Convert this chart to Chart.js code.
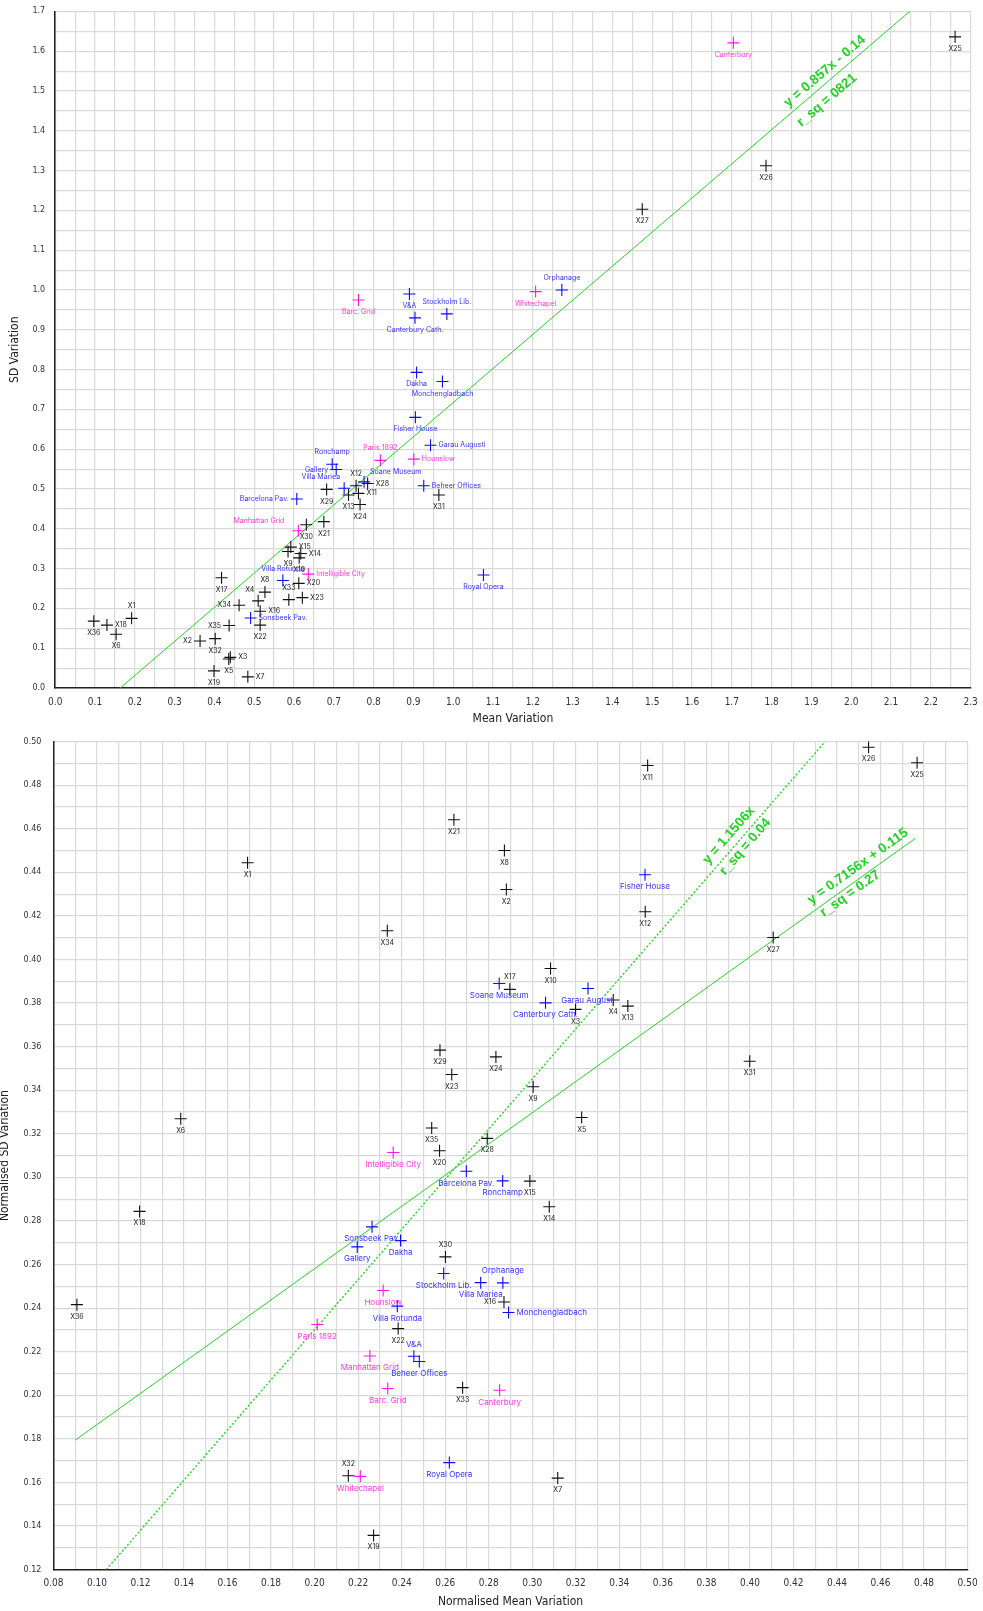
<!DOCTYPE html>
<html>
<head>
<meta charset="utf-8">
<title>Variation scatter</title>
<script src="https://cdn.jsdelivr.net/npm/chart.js@4.4.1/dist/chart.umd.min.js"></script>
<style>
  html, body { margin: 0; padding: 0; background: #fff; }
  .panel { position: relative; width: 983px; }
  #topPanel { height: 730px; }
  #bottomPanel { height: 881px; }
</style>
</head>
<body>
<div class="panel" id="topPanel"><canvas id="meanChart"></canvas></div>
<div class="panel" id="bottomPanel"><canvas id="normChart"></canvas></div>
<script>
// --- buildings: anonymous X series first, then the named set ---
const names = [
  'X1','X2','X3','X4','X5','X6','X7','X8','X9','X10','X11','X12',
  'X13','X14','X15','X16','X17','X18','X19','X20','X21','X22','X23','X24',
  'X25','X26','X27','X28','X29','X30','X31','X32','X33','X34','X35','X36',
  'Canterbury','Orphanage','Whitechapel','Barc. Grid','V&A','Stockholm Lib.',
  'Canterbury Cath.','Dakha','Monchengladbach','Fisher House','Garau Augusti','Hounslow',
  'Paris 1892','Ronchamp','Gallery','Villa Mariea','Soane Museum','Barcelona Pav.',
  'Manhattan Grid','Beheer Offices','Intelligible City','Villa Rotunda','Sonsbeek Pav.','Royal Opera'
];
// x = unnamed, b = blue group, m = magenta group
const groups = [
  'x','x','x','x','x','x','x','x','x','x','x','x',
  'x','x','x','x','x','x','x','x','x','x','x','x',
  'x','x','x','x','x','x','x','x','x','x','x','x',
  'm','b','m','m','b','b',
  'b','b','b','b','b','m',
  'm','b','b','b','b','b',
  'm','b','m','b','b','b'
];

// raw variation
const meanVar = [
  0.192, 0.364, 0.440, 0.510, 0.436, 0.153, 0.484, 0.527, 0.585, 0.613, 0.762, 0.756,
  0.737, 0.617, 0.592, 0.515, 0.418, 0.130, 0.399, 0.612, 0.675, 0.515, 0.621, 0.766,
  2.261, 1.786, 1.475, 0.785, 0.682, 0.631, 0.964, 0.402, 0.587, 0.462, 0.437, 0.097,
  1.704, 1.273, 1.207, 0.762, 0.890, 0.984,
  0.904, 0.908, 0.973, 0.905, 0.943, 0.901,
  0.817, 0.696, 0.706, 0.726, 0.776, 0.607,
  0.611, 0.926, 0.636, 0.572, 0.491, 1.076
];
const sdVar = [
  0.175, 0.118, 0.077, 0.219, 0.073, 0.135, 0.028, 0.241, 0.343, 0.327, 0.489, 0.508,
  0.485, 0.338, 0.354, 0.193, 0.277, 0.158, 0.043, 0.263, 0.418, 0.158, 0.227, 0.461,
  1.636, 1.312, 1.203, 0.514, 0.499, 0.410, 0.485, 0.124, 0.222, 0.208, 0.157, 0.168,
  1.621, 1.000, 0.996, 0.975, 0.990, 0.940,
  0.930, 0.793, 0.770, 0.680, 0.610, 0.575,
  0.572, 0.562, 0.549, 0.502, 0.518, 0.475,
  0.395, 0.508, 0.286, 0.270, 0.176, 0.284
];

// normalised variation
const normMeanVar = [
  0.1692, 0.2881, 0.3199, 0.3372, 0.3227, 0.1385, 0.3117, 0.2872, 0.3004, 0.3084, 0.3530, 0.3519,
  0.3439, 0.3078, 0.2989, 0.2870, 0.2897, 0.1196, 0.2271, 0.2574, 0.2640, 0.2384, 0.2630, 0.2833,
  0.4768, 0.4545, 0.4107, 0.2793, 0.2576, 0.2601, 0.3999, 0.2155, 0.2680, 0.2334, 0.2538, 0.0908,
  0.2850, 0.2865, 0.2210, 0.2336, 0.2456, 0.2593,
  0.3061, 0.2395, 0.2891, 0.3518, 0.3256, 0.2315,
  0.2012, 0.2864, 0.2196, 0.2763, 0.2848, 0.2697,
  0.2254, 0.2481, 0.2361, 0.2380, 0.2264, 0.2619
];
const normSdVar = [
  0.4444, 0.4321, 0.3771, 0.3814, 0.3275, 0.3269, 0.1620, 0.4500, 0.3416, 0.3959, 0.4890, 0.4219,
  0.3786, 0.2865, 0.2983, 0.2428, 0.3863, 0.2844, 0.1357, 0.3122, 0.4641, 0.2306, 0.3472, 0.3553,
  0.4903, 0.4974, 0.4101, 0.3179, 0.3584, 0.2635, 0.3533, 0.1631, 0.2035, 0.4132, 0.3227, 0.2416,
  0.2023, 0.2516, 0.1628, 0.2031, 0.2179, 0.2559,
  0.3801, 0.2710, 0.2380, 0.4389, 0.3867, 0.2481,
  0.2325, 0.2984, 0.2681, 0.2517, 0.3890, 0.3028,
  0.2180, 0.2155, 0.3114, 0.2409, 0.2773, 0.1691
];

// fitted lines: [slope, intercept]
const meanFit = [0.857, -0.14];
const normFit = [0.7156, 0.115];
const normFitOrigin = [1.1506, 0];

// where each point's name sits relative to its cross
const meanLabelPos = [
  'a','l','r','al','b','b','r','a','b','b','r','a',
  'b','r','r','r','b','r','b','r','b','b','r','b',
  'b','b','b','r','b','b','b','b','a','l','l','b',
  'b','a','b','b','b','a',
  'b','b','b','b','r','r',
  'a','a','l','al','ar','l',
  'ml','r','r','a','r','b'
];
const normLabelPos = [
  'b','b','b','b','b','b','b','b','b','b','b','b',
  'b','b','b','l','a','b','b','b','b','b','b','b',
  'b','b','b','b','b','a','b','a','b','b','b','b',
  'b','a','b','b','a','b',
  'b','b','r','b','b','b',
  'b','b','b','b','b','b',
  'b','b','b','b','b','b'
];

const LABEL_OFFSETS = {
  b: [0, 12, 'center'], a: [0, -12, 'center'],
  r: [8, 0, 'left'], l: [-8, 0, 'right'],
  al: [-4, -11, 'right'], ar: [6, -10, 'left'], ml: [-14, -10, 'right']
};
const GROUP_STYLE = {
  x: { point: '#111111', text: '#222222' },
  b: { point: '#0a0aff', text: '#3434ff' },
  m: { point: '#ff14f0', text: '#ff36dc' }
};
const GREEN = '#22d622';
const GRID = '#d9d9d9';
const NARROW = "'Liberation Sans Narrow', 'DejaVu Sans Condensed', 'Arial Narrow', sans-serif";
const LABEL_FONT = "Inter, 'DejaVu Sans', sans-serif";

function pointSets(xs, ys, pos, named, plain) {
  return ['x', 'b', 'm'].map(g => {
    const idx = names.map((_, i) => i).filter(i => groups[i] === g);
    return {
      type: 'scatter',
      data: idx.map(i => ({ x: xs[i], y: ys[i] })),
      labelText: idx.map(i => names[i]),
      labelPos: idx.map(i => pos[i]),
      labelColor: GROUP_STYLE[g].text,
      labelSize: g === 'x' ? plain : named,
      pointStyle: 'cross',
      pointRadius: 6,
      pointHoverRadius: 6,
      borderWidth: 1.1,
      borderColor: GROUP_STYLE[g].point,
      backgroundColor: GROUP_STYLE[g].point
    };
  });
}

function fitLine(fit, x0, x1, dash) {
  const [k, c] = fit;
  return {
    type: 'line',
    data: [{ x: x0, y: k * x0 + c }, { x: x1, y: k * x1 + c }],
    borderColor: GREEN,
    borderWidth: dash ? 1.4 : 1,
    borderDash: dash ? [2, 2] : [],
    pointRadius: 0,
    fill: false,
    tension: 0
  };
}

// names next to the crosses
const pointLabels = {
  id: 'pointLabels',
  afterDatasetsDraw(chart) {
    const ctx = chart.ctx;
    ctx.save();
    ctx.textBaseline = 'middle';
    chart.data.datasets.forEach((ds, di) => {
      if (!ds.labelText) return;
      const meta = chart.getDatasetMeta(di);
      ctx.fillStyle = ds.labelColor;
      ctx.font = ds.labelSize + 'px ' + LABEL_FONT;
      meta.data.forEach((el, i) => {
        const [dx, dy, align] = LABEL_OFFSETS[ds.labelPos[i]];
        ctx.textAlign = align;
        ctx.fillText(ds.labelText[i], el.x + dx, el.y + dy);
      });
    });
    ctx.restore();
  }
};

// equation text laid along a fitted line
const fitNotes = {
  id: 'fitNotes',
  afterDatasetsDraw(chart, args, opts) {
    const { x: sx, y: sy } = chart.scales;
    const ctx = chart.ctx;
    (opts.notes || []).forEach(note => {
      const [k, c] = note.fit;
      const px = sx.getPixelForValue(note.at);
      const py = sy.getPixelForValue(k * note.at + c);
      const qx = sx.getPixelForValue(note.at + 0.1);
      const qy = sy.getPixelForValue(k * (note.at + 0.1) + c);
      const ang = Math.atan2(qy - py, qx - px);
      ctx.save();
      ctx.translate(px, py);
      ctx.rotate(ang);
      ctx.fillStyle = '#1fd41f';
      ctx.font = "bold 13.5px 'Liberation Sans', Arial, sans-serif";
      ctx.textAlign = 'center';
      ctx.textBaseline = 'middle';
      note.lines.forEach(([text, along, normal]) => ctx.fillText(text, along, normal));
      ctx.restore();
    });
  }
};

function axis(opts) {
  return {
    type: 'linear',
    min: opts.min,
    max: opts.max,
    ticks: {
      stepSize: opts.step,
      autoSkip: false,
      maxRotation: 0,
      padding: opts.pad,
      color: '#333',
      font: opts.font,
      callback: v => {
        const n = Math.round(v / opts.step);
        return n % 2 === 0 ? v.toFixed(opts.digits) : '';
      }
    },
    grid: { color: GRID, lineWidth: 1.2, drawTicks: false },
    border: { color: '#222', width: 1.5 },
    title: {
      display: true,
      text: opts.title,
      color: '#222',
      font: { family: NARROW, size: 12 },
      padding: opts.titlePad
    },
    // fixed axis box; tick label overhang must not push the plot area
    afterFit: s => {
      opts.fit(s);
      s.paddingTop = 0;
      s.paddingBottom = 0;
      s.paddingLeft = 0;
      s.paddingRight = 0;
    }
  };
}

function baseOptions(padding, xAxis, yAxis, notes) {
  return {
    responsive: true,
    maintainAspectRatio: false,
    animation: false,
    layout: { padding },
    plugins: {
      legend: { display: false },
      tooltip: { enabled: false },
      fitNotes: { notes }
    },
    scales: { x: xAxis, y: yAxis }
  };
}

// top: raw mean vs sd
new Chart(document.getElementById('meanChart'), {
  data: {
    datasets: [
      ...pointSets(meanVar, sdVar, meanLabelPos, 7, 7),
      fitLine(meanFit, -meanFit[1] / meanFit[0], (1.7 - meanFit[1]) / meanFit[0], false)
    ]
  },
  options: baseOptions(
    { top: 11.4, right: 12.4, left: 0, bottom: 0 },
    axis({ min: 0, max: 2.3, step: 0.05, digits: 1, pad: 8, title: 'Mean Variation',
      font: { family: NARROW, size: 10 }, titlePad: { top: 4, bottom: 4 },
      fit: s => { s.height = 42; } }),
    axis({ min: 0, max: 1.7, step: 0.05, digits: 1, pad: 10, title: 'SD Variation',
      font: { family: "'DejaVu Sans', sans-serif", size: 8 }, titlePad: { top: 8, bottom: 4 },
      fit: s => { s.width = 55.2; } }),
    [{ fit: meanFit, at: 1.935, lines: [['y = 0.857x - 0.14', 7.7, -9.8], ['r_sq = 0821', -9.5, 13.6]] }]
  ),
  plugins: [pointLabels, fitNotes]
});

// bottom: normalised mean vs sd
new Chart(document.getElementById('normChart'), {
  data: {
    datasets: [
      ...pointSets(normMeanVar, normSdVar, normLabelPos, 8, 7),
      fitLine(normFit, 0.09, 0.476, false),
      fitLine(normFitOrigin, 0.12 / normFitOrigin[0], 0.5 / normFitOrigin[0], true)
    ]
  },
  options: baseOptions(
    { top: 11.6, right: 15.4, left: 0, bottom: 0 },
    axis({ min: 0.08, max: 0.5, step: 0.01, digits: 2, pad: 8, title: 'Normalised Mean Variation',
      font: { family: NARROW, size: 10 }, titlePad: { top: 2, bottom: 2 },
      fit: s => { s.height = 41.4; } }),
    axis({ min: 0.12, max: 0.5, step: 0.01, digits: 2, pad: 12, title: 'Normalised SD Variation',
      font: { family: "'DejaVu Sans', sans-serif", size: 8 }, titlePad: { top: -2, bottom: 0 },
      fit: s => { s.width = 53.4; } }),
    [
      { fit: normFitOrigin, at: 0.3905, lines: [['y = 1.1506x', 12.4, -11.2], ['r_sq = 0.04', 14.4, 8.7]] },
      { fit: normFit, at: 0.4497, lines: [['y = 0.7156x + 0.115', 7.3, -10.6], ['r_sq = 0.27', -14.9, 7.0]] }
    ]
  ),
  plugins: [pointLabels, fitNotes]
});
</script>
</body>
</html>
